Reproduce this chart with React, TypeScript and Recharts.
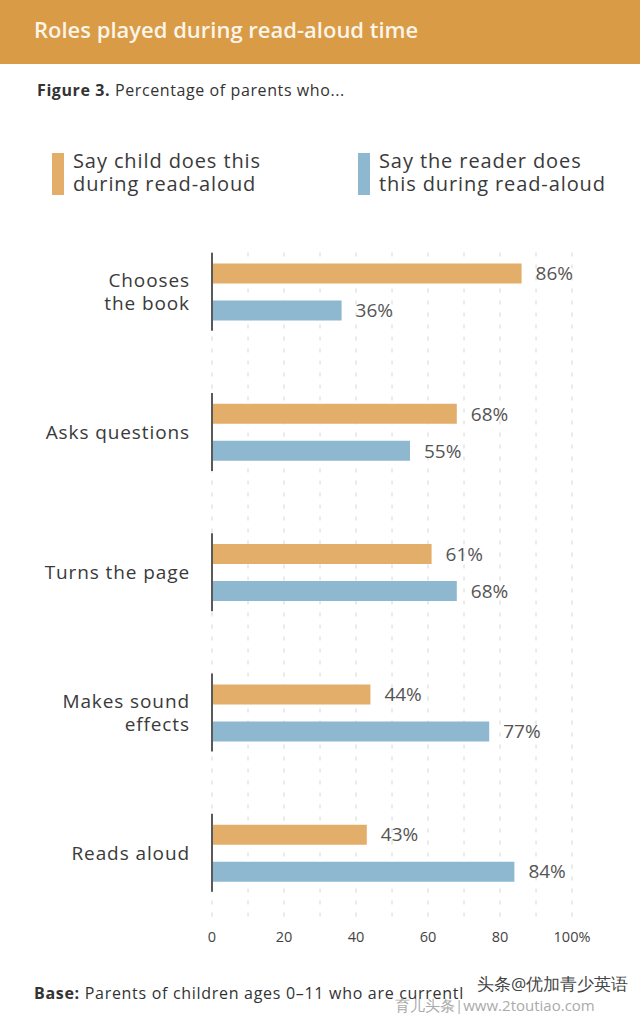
import React from 'react';
import { BarChart, Bar, XAxis, YAxis, CartesianGrid, LabelList } from 'recharts';

const categories = ['Chooses\nthe book', 'Asks questions', 'Turns the page', 'Makes sound\neffects', 'Reads aloud'];
const childDoes = [86, 68, 61, 44, 43];
const readerDoes = [36, 55, 68, 77, 84];
const xTicks = [0, 10, 20, 30, 40, 50, 60, 70, 80, 90, 100];
const legendLabels = ['Say child does this\nduring read-aloud', 'Say the reader does\nthis during read-aloud'];
const colors = ['#E3AE69', '#8DB8CF'];

const data = categories.map((name, i) => ({ name, child: childDoes[i], reader: readerDoes[i] }));

const FONT = '"Open Sans", Lato, sans-serif';
const TEXT = '#3a3a3a';

function CategoryTick(props: any) {
  const { x, y, payload } = props;
  const lines = String(payload.value).split('\n');
  const lh = 23;
  const start = y - ((lines.length - 1) * lh) / 2 + 7;
  return (
    <g>
      <line x1={x + 22} x2={x + 22} y1={y - 39} y2={y + 39} stroke="#5a5a5a" strokeWidth={2} />
      {lines.map((l, i) => (
        <text key={i} x={x} y={start + i * lh} textAnchor="end" fontSize={19} fill={TEXT} fontFamily={FONT} letterSpacing={0.9}>
          {l}
        </text>
      ))}
    </g>
  );
}

const gridLine = (props: any) => (
  <line
    key={`g-${props.index}`}
    x1={props.x1}
    x2={props.x2}
    y1={props.y1 + 31}
    y2={props.y2 - 3}
    stroke="#d6d6d6"
    strokeDasharray="4 8"
  />
);

const xFmt = (v: number) => (v % 20 === 0 ? (v === 100 ? '100%' : String(v)) : '');

export default function App() {
  return (
    <div style={{ position: 'absolute', left: 0, top: 0, width: 640, height: 1014, background: '#fff', fontFamily: FONT, overflow: 'hidden' }}>
      <div style={{ position: 'absolute', left: 0, top: 0, width: 640, height: 64, background: '#D99B45' }}>
        <div style={{ position: 'absolute', left: 34, top: 14, fontSize: 22, fontWeight: 600, color: '#FBF4E8', whiteSpace: 'nowrap' }}>
          Roles played during read-aloud time
        </div>
      </div>
      <div style={{ position: 'absolute', left: 37, top: 79, fontSize: 16, color: '#333', letterSpacing: 0.6, whiteSpace: 'nowrap' }}>
        <b>Figure 3.</b> Percentage of parents who...
      </div>
      {legendLabels.map((lab, i) => (
        <div key={i} style={{ position: 'absolute', left: i === 0 ? 52 : 358, top: 149 }}>
          <div style={{ position: 'absolute', left: 0, top: 4, width: 12, height: 42, background: colors[i] }} />
          <div style={{ position: 'absolute', left: 21, top: 0, fontSize: 20, lineHeight: '23px', color: TEXT, whiteSpace: 'pre', letterSpacing: 0.9 }}>
            {lab}
          </div>
        </div>
      ))}
      <div style={{ position: 'absolute', left: 0, top: 200 }}>
        <BarChart
          width={640}
          height={760}
          data={data}
          layout="vertical"
          margin={{ top: 21.5, right: 68, bottom: 7, left: 0 }}
          barSize={20}
          barGap={17}
        >
          <CartesianGrid horizontal={false} vertical={gridLine} />
          <XAxis
            type="number"
            domain={[0, 100]}
            ticks={xTicks}
            tickFormatter={xFmt}
            axisLine={false}
            tickLine={false}
            tickSize={0}
            tickMargin={9}
            height={30}
            interval={0}
            tick={{ fontSize: 14.5, fill: '#444', fontFamily: FONT }}
          />
          <YAxis
            type="category"
            dataKey="name"
            width={212}
            axisLine={false}
            tickLine={false}
            tickSize={0}
            tickMargin={22}
            interval={0}
            tick={<CategoryTick />}
          />
          <Bar dataKey="child" fill={colors[0]} isAnimationActive={false}>
            <LabelList dataKey="child" position="right" offset={14} formatter={(v: any) => `${v}%`} fill="#555" fontSize={19} fontFamily={FONT} />
          </Bar>
          <Bar dataKey="reader" fill={colors[1]} isAnimationActive={false}>
            <LabelList dataKey="reader" position="right" offset={14} formatter={(v: any) => `${v}%`} fill="#555" fontSize={19} fontFamily={FONT} />
          </Bar>
        </BarChart>
      </div>
      <div style={{ position: 'absolute', left: 34, top: 982, fontSize: 16, color: '#333', whiteSpace: 'nowrap', letterSpacing: 0.7 }}>
        <b>Base:</b> Parents of children ages 0–11 who are currentl
      </div>
      <div style={{ position: 'absolute', left: 477, top: 974, fontSize: 17, lineHeight: '20px', color: '#444', whiteSpace: 'nowrap', textShadow: '0 0 2px #fff, 0 0 2px #fff' }}>
        头条@优加青少英语
      </div>
      <div style={{ position: 'absolute', left: 395, top: 997, fontSize: 15, lineHeight: '16px', color: '#aaa', whiteSpace: 'nowrap' }}>
        育儿头条|www.2toutiao.com
      </div>
    </div>
  );
}
